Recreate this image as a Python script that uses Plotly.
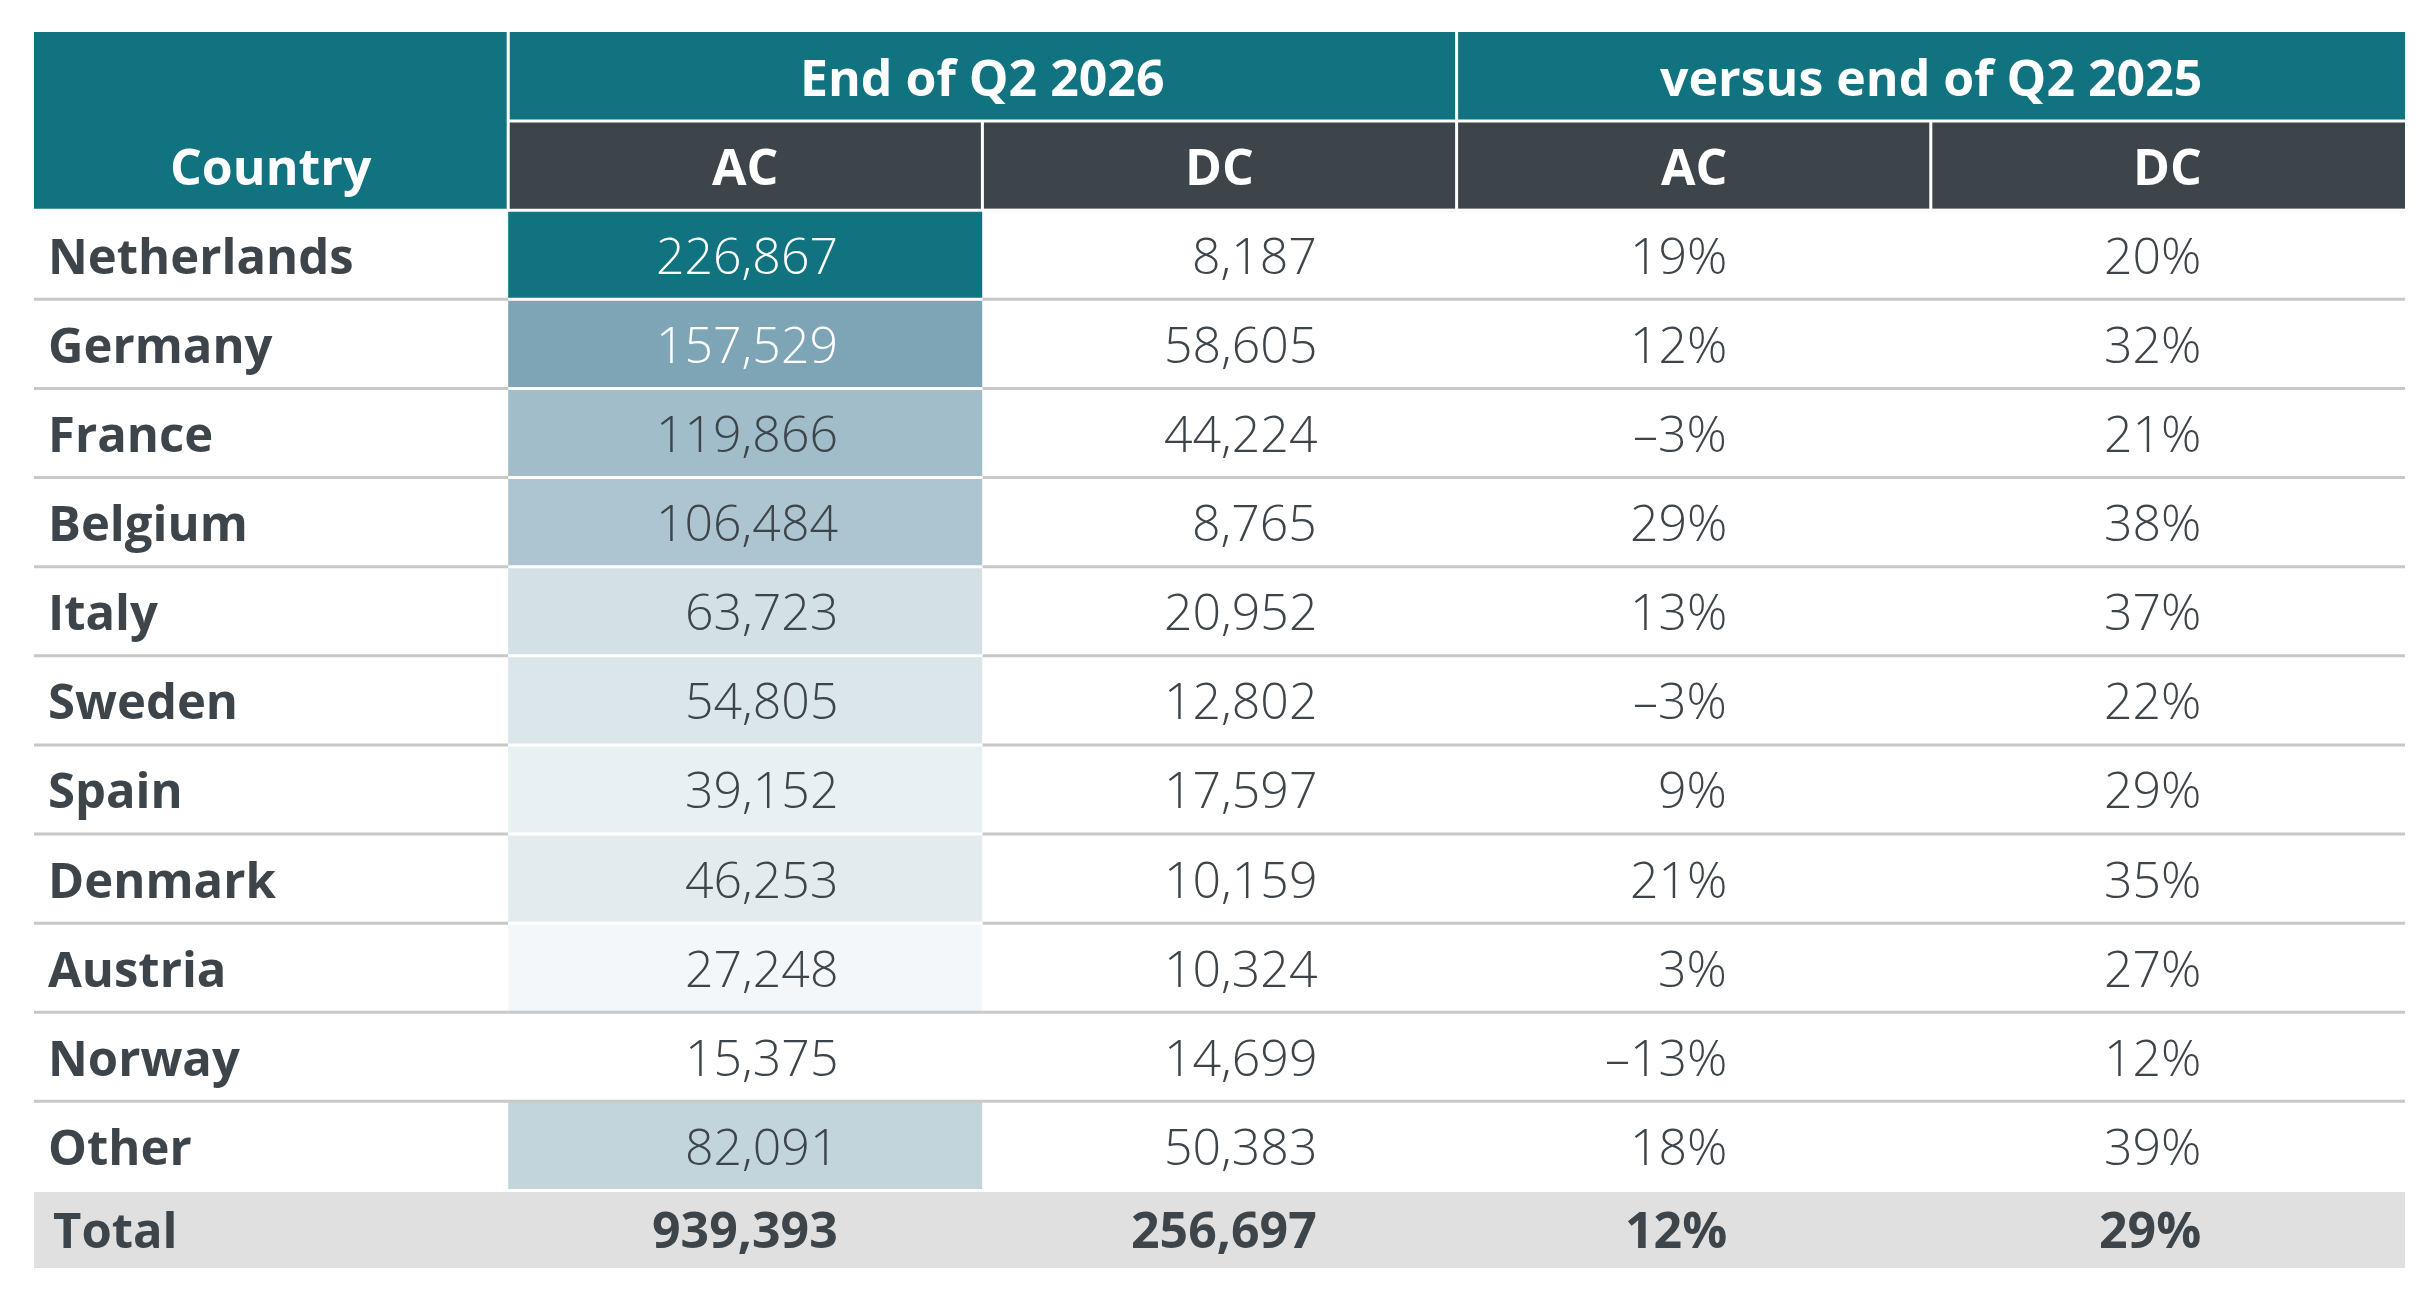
import plotly.graph_objects as go

# ---------------- data ----------------
countries = ["Netherlands", "Germany", "France", "Belgium", "Italy", "Sweden",
             "Spain", "Denmark", "Austria", "Norway", "Other"]
ac_2026 = [226867, 157529, 119866, 106484, 63723, 54805, 39152, 46253, 27248, 15375, 82091]
dc_2026 = [8187, 58605, 44224, 8765, 20952, 12802, 17597, 10159, 10324, 14699, 50383]
ac_change = [19, 12, -3, 29, 13, -3, 9, 21, 3, -13, 18]
dc_change = [20, 32, 21, 38, 37, 22, 29, 35, 27, 12, 39]
total_label = "Total"
total_values = [939393, 256697]
total_changes = [12, 29]
group_headers = ["End of Q2 2026", "versus end of Q2 2025"]
sub_headers = ["AC", "DC", "AC", "DC"]
first_header = "Country"

# ---------------- style ----------------
TEAL = "#10737f"
DARK = "#3d454b"
TEXT = "#3d454b"
GRID = "#c8c8c8"
TOTAL_BG = "#e0e0e0"
SLATE = "#7ea5b5"
FONT = "Open Sans"
FS_HEAD = 50
FS_NAME = 49
FS_NUM = 50
TOTAL_H = 0.87
ANCHOR = [None, 0.700, 0.710, 0.575, 0.574]   # right anchor of text inside each column
WHITE_TEXT_ROWS = 2

n = len(countries)


def fmt_num(v):
    return f"{v:,}"


def fmt_pct(v):
    return ("\u2013" if v < 0 else "") + f"{abs(v)}%"


fig = go.Figure()

# AC heat-map column, coloured through a colour scale
fig.add_trace(go.Heatmap(
    z=[[v] for v in ac_2026],
    x=[1, 2],
    y=list(range(n + 1)),
    zmin=min(ac_2026), zmax=max(ac_2026),
    colorscale=[[0, "#ffffff"], [0.672, SLATE], [1, TEAL]],
    showscale=False, hoverinfo="skip",
))

shapes = []
# header backgrounds
shapes.append(dict(type="rect", x0=0, x1=5, y0=-2, y1=-1, fillcolor=TEAL, line_width=0, layer="below"))
shapes.append(dict(type="rect", x0=0, x1=1, y0=-2, y1=0, fillcolor=TEAL, line_width=0, layer="below"))
shapes.append(dict(type="rect", x0=1, x1=5, y0=-1, y1=0, fillcolor=DARK, line_width=0, layer="below"))
# total row background
shapes.append(dict(type="rect", x0=0, x1=5, y0=n, y1=n + TOTAL_H, fillcolor=TOTAL_BG, line_width=0, layer="below"))

# grey row separators
for i in range(1, n):
    shapes.append(dict(type="line", x0=0, x1=1, y0=i, y1=i, line=dict(color=GRID, width=3)))
    shapes.append(dict(type="line", x0=2, x1=5, y0=i, y1=i, line=dict(color=GRID, width=3)))
    coloured = ac_2026[i - 1] > min(ac_2026) and ac_2026[i] > min(ac_2026)
    shapes.append(dict(type="line", x0=1, x1=2, y0=i, y1=i,
                       line=dict(color="white" if coloured else GRID, width=3)))
shapes.append(dict(type="line", x0=2, x1=5, y0=0, y1=0, line=dict(color=GRID, width=3)))

# white header / heat-map separators
white = dict(color="white", width=3)
shapes.append(dict(type="line", x0=0, x1=5, y0=0, y1=0, line=dict(color="white", width=3)))
shapes.append(dict(type="line", x0=1, x1=5, y0=-1, y1=-1, line=white))
shapes.append(dict(type="line", x0=1, x1=1, y0=-2, y1=0, line=white))
shapes.append(dict(type="line", x0=3, x1=3, y0=-2, y1=0, line=white))
shapes.append(dict(type="line", x0=2, x1=2, y0=-1, y1=0, line=white))
shapes.append(dict(type="line", x0=4, x1=4, y0=-1, y1=0, line=white))
shapes.append(dict(type="line", x0=0, x1=5, y0=n, y1=n, line=white))

ann = []
# headers
ann.append(dict(x=0.5, y=-0.5, text=f"<b>{first_header}</b>", xanchor="center", yanchor="middle",
                font=dict(family=FONT, size=FS_HEAD, color="white")))
for g, txt in enumerate(group_headers):
    ann.append(dict(x=2 + 2 * g, y=-1.5, text=f"<b>{txt}</b>", xanchor="center", yanchor="middle",
                    font=dict(family=FONT, size=FS_HEAD, color="white")))
for c, txt in enumerate(sub_headers):
    ann.append(dict(x=1.5 + c, y=-0.5, text=f"<b>{txt}</b>", xanchor="center", yanchor="middle",
                    font=dict(family=FONT, size=FS_HEAD, color="white")))

# body
for i in range(n):
    yc = i + 0.5
    ann.append(dict(x=0, y=yc, text=f"<b>{countries[i]}</b>", xanchor="left", yanchor="middle", xshift=12,
                    font=dict(family=FONT, size=FS_NAME, color=TEXT)))
    cells = [fmt_num(ac_2026[i]), fmt_num(dc_2026[i]), fmt_pct(ac_change[i]), fmt_pct(dc_change[i])]
    for c, txt in enumerate(cells):
        col = "white" if (c == 0 and i < WHITE_TEXT_ROWS) else TEXT
        ann.append(dict(x=1 + c + ANCHOR[c + 1], y=yc, text=txt, xanchor="right", yanchor="middle",
                        font=dict(family=FONT, size=FS_NUM, color=col, weight=350)))

# total row
yt = n + TOTAL_H / 2
ann.append(dict(x=0, y=yt, text=f"<b>{total_label}</b>", xanchor="left", yanchor="middle", xshift=17,
                font=dict(family=FONT, size=FS_NAME, color=TEXT)))
tcells = [fmt_num(v) for v in total_values] + [fmt_pct(v) for v in total_changes]
for c, txt in enumerate(tcells):
    ann.append(dict(x=1 + c + ANCHOR[c + 1], y=yt, text=f"<b>{txt}</b>", xanchor="right", yanchor="middle",
                    font=dict(family=FONT, size=FS_NUM, color=TEXT)))

for a in ann:
    a.update(showarrow=False, xref="x", yref="y")

fig.update_layout(
    width=2428, height=1292,
    margin=dict(l=34, r=23, t=32, b=24, pad=0),
    paper_bgcolor="white", plot_bgcolor="white",
    xaxis=dict(range=[0, 5], visible=False, fixedrange=True),
    yaxis=dict(range=[n + TOTAL_H, -2], visible=False, fixedrange=True),
    shapes=shapes, annotations=ann, showlegend=False,
)

fig.write_html("out.html", config={"displayModeBar": False},
               post_script="document.body.style.margin='0';")
